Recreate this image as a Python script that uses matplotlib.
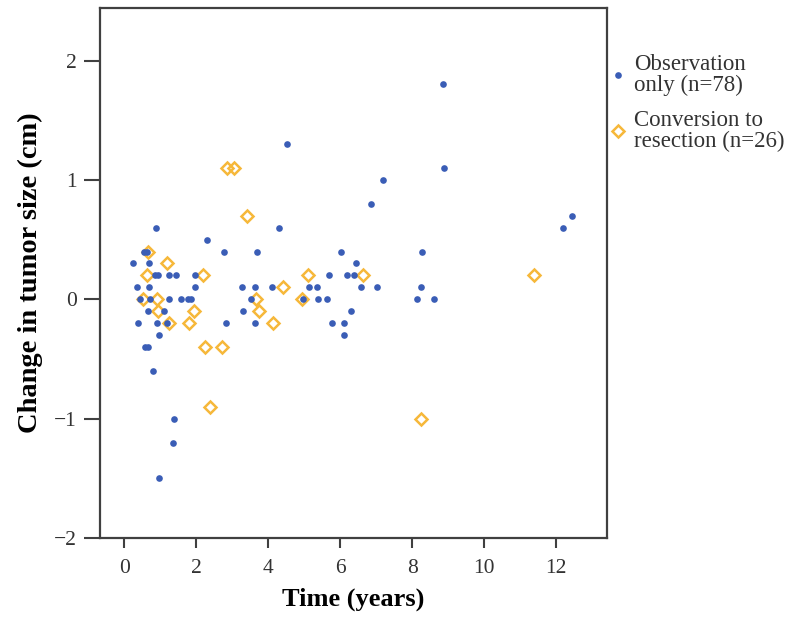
import matplotlib
matplotlib.use("Agg")
import matplotlib.pyplot as plt

plt.rcParams['font.family'] = ['Liberation Serif', 'DejaVu Serif']

# observation only (blue dots)
obs_time = [0.87, 2.31, 2.77, 0.56, 0.64, 0.25, 0.68, 0.86, 0.95, 1.24, 1.43, 1.96,
            0.34, 0.68, 1.96, 0.44, 0.71, 1.25, 1.57, 1.78, 1.85, 0.65, 1.10,
            0.39, 0.92, 1.20, 2.82, 0.96, 0.58, 0.65, 0.79, 1.38, 1.35, 0.97,
            4.51, 4.29, 3.69, 5.70, 3.26, 3.62, 4.10, 5.12, 5.34, 3.52, 4.97,
            5.39, 5.62, 3.31, 3.64, 5.76, 8.88, 7.19, 6.86, 6.03, 6.44, 6.18,
            6.39, 6.58, 7.01, 8.23, 8.12, 8.60, 8.26, 6.29, 6.10, 6.10, 12.44,
            12.18, 8.85]
obs_change = [0.6, 0.5, 0.4, 0.4, 0.4, 0.3, 0.3, 0.2, 0.2, 0.2, 0.2, 0.2,
              0.1, 0.1, 0.1, 0.0, 0.0, 0.0, 0.0, 0.0, 0.0, -0.1, -0.1,
              -0.2, -0.2, -0.2, -0.2, -0.3, -0.4, -0.4, -0.6, -1.0, -1.2, -1.5,
              1.3, 0.6, 0.4, 0.2, 0.1, 0.1, 0.1, 0.1, 0.1, 0.0, 0.0,
              0.0, 0.0, -0.1, -0.2, -0.2, 1.1, 1.0, 0.8, 0.4, 0.3, 0.2,
              0.2, 0.1, 0.1, 0.1, 0.0, 0.0, 0.4, -0.1, -0.2, -0.3, 0.7,
              0.6, 1.8]

# conversion to resection (orange diamonds)
res_time = [2.84, 3.05, 3.42, 0.67, 1.18, 0.62, 2.19, 0.53, 0.90, 0.93, 1.94,
            1.23, 1.79, 2.24, 2.72, 2.39, 5.09, 4.42, 3.66, 4.94, 3.74, 4.12,
            6.62, 11.37, 8.24]
res_change = [1.1, 1.1, 0.7, 0.4, 0.3, 0.2, 0.2, 0.0, 0.0, -0.1, -0.1,
              -0.2, -0.2, -0.4, -0.4, -0.9, 0.2, 0.1, 0.0, 0.0, -0.1, -0.2,
              0.2, 0.2, -1.0]

blue = '#3A5DB6'
orange = '#F6B83A'
frame = '#404040'

fig = plt.figure(figsize=(7.87, 6.33), dpi=100)
ax = fig.add_axes([100 / 787, 95 / 633, 507 / 787, 530 / 633])

ax.plot(obs_time, obs_change, 'o', color=blue, ms=4.8, mew=0,
        label='Observation\nonly (n=78)', zorder=3)
ax.plot(res_time, res_change, 'D', mfc='none', mec=orange, ms=6.2, mew=1.8,
        label='Conversion to\nresection (n=26)', zorder=2)

ax.set_xlim(-0.675, 13.41)
ax.set_ylim(-2.0, 2.44)
ax.set_xticks([0, 2, 4, 6, 8, 10, 12])
ax.set_yticks([-2, -1, 0, 1, 2])
ax.set_yticklabels(['\u22122', '\u22121', '0', '1', '2'])

for s in ax.spines.values():
    s.set_color(frame)
    s.set_linewidth(1.6)
ax.tick_params(axis='y', direction='out', length=11.5, width=1.5, color=frame,
               labelsize=15.5, pad=5, labelcolor='#333333')
ax.tick_params(axis='x', direction='out', length=7, width=1.5, color=frame,
               labelsize=15.5, pad=8, labelcolor='#333333')

ax.set_xlabel('Time (years)', fontsize=19, fontweight='bold', labelpad=7)
ax.set_ylabel('Change in tumor size (cm)', fontsize=20.5, fontweight='bold', labelpad=8)

leg = fig.legend(loc='upper left', bbox_to_anchor=(609 / 787, 1 - 54 / 633),
                 frameon=False, fontsize=16.5, handlelength=0.75, handletextpad=0.35,
                 borderpad=0, borderaxespad=0, labelspacing=0.6, markerscale=1.0)
for t in leg.get_texts():
    t.set_color('#333333')
    t.set_linespacing(1.0)

fig.savefig('out.png', dpi=100)
